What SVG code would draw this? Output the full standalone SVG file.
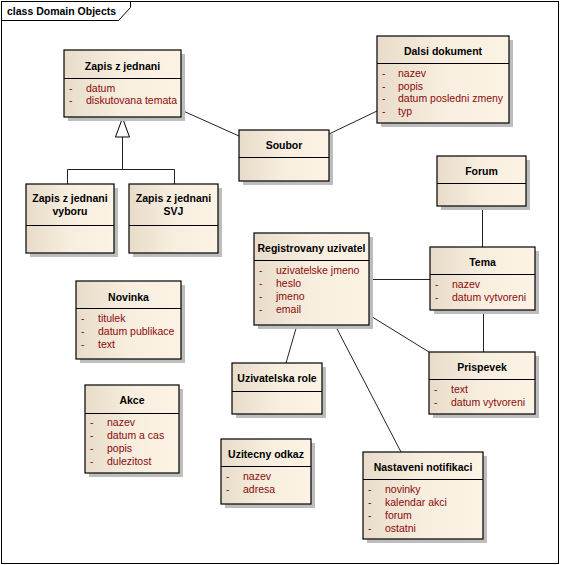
<svg xmlns="http://www.w3.org/2000/svg" width="561" height="565" viewBox="0 0 561 565">
<defs>
<linearGradient id="g" x1="0" y1="0" x2="1" y2="0">
<stop offset="0" stop-color="#E8DCC9"/>
<stop offset="0.5" stop-color="#F8EEDF"/>
<stop offset="1" stop-color="#FCF3E5"/>
</linearGradient>
<style>
.sh{fill:#BDBDBD}
.bx{fill:url(#g);stroke:#000;stroke-width:1.2}
.dv{stroke:#000;stroke-width:1}
.t{font-family:"Liberation Sans",Arial,sans-serif;font-size:10.5px;font-weight:bold;fill:#000;text-anchor:middle}
.a{font-family:"Liberation Sans",Arial,sans-serif;font-size:10.5px;fill:#8B0A0A}
.c{stroke:#222;stroke-width:1;fill:none}
.fr{font-family:"Liberation Sans",Arial,sans-serif;font-size:10.5px;font-weight:bold;fill:#000}
</style>
</defs>
<rect x="0" y="0" width="561" height="565" fill="#fff"/>
<g id="frame">
<rect x="1.5" y="1.5" width="557" height="562" fill="none" stroke="#000" stroke-width="1"/>
<polyline points="1.5,20.5 118.5,20.5 130.5,7.5 130.5,1.5" fill="none" stroke="#000" stroke-width="1"/>
<text class="fr" x="7" y="15">class Domain Objects</text>
</g>
<g id="connectors">
<line class="c" x1="181" y1="110" x2="239" y2="136"/>
<line class="c" x1="329" y1="134" x2="377" y2="111"/>
<path class="c" d="M67.5,184 V169.5 H174.5 V184 M122.5,169.5 V137"/>
<polygon points="122.5,118 115.5,137 129.5,137" fill="#fff" stroke="#000" stroke-width="1"/>
<line class="c" x1="482.5" y1="206" x2="482.5" y2="247"/>
<line class="c" x1="369" y1="279.5" x2="430" y2="279.5"/>
<line class="c" x1="483.5" y1="310" x2="483.5" y2="352"/>
<line class="c" x1="369" y1="315" x2="429" y2="352"/>
<line class="c" x1="297" y1="325" x2="286" y2="363"/>
<line class="c" x1="335" y1="325" x2="401" y2="452"/>
</g>
<g id="zapis">
<rect class="sh" x="68" y="54" width="117" height="67"/>
<rect class="bx" x="64" y="50" width="117" height="67"/>
<line class="dv" x1="64" y1="78.5" x2="181" y2="78.5"/>
<text class="t" x="122.5" y="69.5">Zapis z jednani</text>
<text class="a" x="69" y="92">-</text><text class="a" x="86" y="92">datum</text>
<text class="a" x="69" y="104">-</text><text class="a" x="86" y="104">diskutovana temata</text>
</g>
<g id="zapis-vyboru">
<rect class="sh" x="30" y="188" width="88" height="69"/>
<rect class="bx" x="26" y="184" width="88" height="69"/>
<line class="dv" x1="26" y1="225.5" x2="114" y2="225.5"/>
<text class="t" x="70" y="202">Zapis z jednani</text>
<text class="t" x="70" y="215">vyboru</text>
</g>
<g id="zapis-svj">
<rect class="sh" x="133" y="188" width="89" height="69"/>
<rect class="bx" x="129" y="184" width="89" height="69"/>
<line class="dv" x1="129" y1="225.5" x2="218" y2="225.5"/>
<text class="t" x="173.5" y="202">Zapis z jednani</text>
<text class="t" x="173.5" y="215">SVJ</text>
</g>
<g id="soubor">
<rect class="sh" x="243" y="134" width="90" height="51"/>
<rect class="bx" x="239" y="130" width="90" height="51"/>
<line class="dv" x1="239" y1="157.5" x2="329" y2="157.5"/>
<text class="t" x="284" y="149">Soubor</text>
</g>
<g id="dalsi-dokument">
<rect class="sh" x="381" y="40" width="132" height="87"/>
<rect class="bx" x="377" y="36" width="132" height="87"/>
<line class="dv" x1="377" y1="63.5" x2="509" y2="63.5"/>
<text class="t" x="443" y="55">Dalsi dokument</text>
<text class="a" x="382" y="77">-</text><text class="a" x="398" y="77">nazev</text>
<text class="a" x="382" y="89.5">-</text><text class="a" x="398" y="89.5">popis</text>
<text class="a" x="382" y="102">-</text><text class="a" x="398" y="102">datum posledni zmeny</text>
<text class="a" x="382" y="114.5">-</text><text class="a" x="398" y="114.5">typ</text>
</g>
<g id="forum">
<rect class="sh" x="441" y="160" width="89" height="50"/>
<rect class="bx" x="437" y="156" width="89" height="50"/>
<line class="dv" x1="437" y1="183.5" x2="526" y2="183.5"/>
<text class="t" x="481.5" y="174.5">Forum</text>
</g>
<g id="tema">
<rect class="sh" x="434" y="251" width="105" height="63"/>
<rect class="bx" x="430" y="247" width="105" height="63"/>
<line class="dv" x1="430" y1="274.5" x2="535" y2="274.5"/>
<text class="t" x="482.5" y="266">Tema</text>
<text class="a" x="435" y="288">-</text><text class="a" x="452" y="288">nazev</text>
<text class="a" x="435" y="301">-</text><text class="a" x="452" y="301">datum vytvoreni</text>
</g>
<g id="registrovany-uzivatel">
<rect class="sh" x="258" y="237" width="115" height="92"/>
<rect class="bx" x="254" y="233" width="115" height="92"/>
<line class="dv" x1="254" y1="260.5" x2="369" y2="260.5"/>
<text class="t" x="311.5" y="252">Registrovany uzivatel</text>
<text class="a" x="259" y="274">-</text><text class="a" x="276" y="274">uzivatelske jmeno</text>
<text class="a" x="259" y="287">-</text><text class="a" x="276" y="287">heslo</text>
<text class="a" x="259" y="300">-</text><text class="a" x="276" y="300">jmeno</text>
<text class="a" x="259" y="313">-</text><text class="a" x="276" y="313">email</text>
</g>
<g id="prispevek">
<rect class="sh" x="433" y="356" width="106" height="62"/>
<rect class="bx" x="429" y="352" width="106" height="62"/>
<line class="dv" x1="429" y1="379.5" x2="535" y2="379.5"/>
<text class="t" x="482" y="370.5">Prispevek</text>
<text class="a" x="434" y="392.5">-</text><text class="a" x="451" y="392.5">text</text>
<text class="a" x="434" y="405.5">-</text><text class="a" x="451" y="405.5">datum vytvoreni</text>
</g>
<g id="uzivatelska-role">
<rect class="sh" x="236" y="367" width="90" height="51"/>
<rect class="bx" x="232" y="363" width="90" height="51"/>
<line class="dv" x1="232" y1="391.5" x2="322" y2="391.5"/>
<text class="t" x="277" y="382">Uzivatelska role</text>
</g>
<g id="nastaveni-notifikaci">
<rect class="sh" x="367" y="456" width="120" height="87"/>
<rect class="bx" x="363" y="452" width="120" height="87"/>
<line class="dv" x1="363" y1="479.5" x2="483" y2="479.5"/>
<text class="t" x="423" y="471">Nastaveni notifikaci</text>
<text class="a" x="368" y="493">-</text><text class="a" x="385" y="493">novinky</text>
<text class="a" x="368" y="506">-</text><text class="a" x="385" y="506">kalendar akci</text>
<text class="a" x="368" y="519">-</text><text class="a" x="385" y="519">forum</text>
<text class="a" x="368" y="532">-</text><text class="a" x="385" y="532">ostatni</text>
</g>
<g id="uzitecny-odkaz">
<rect class="sh" x="225" y="443" width="90" height="65"/>
<rect class="bx" x="221" y="439" width="90" height="65"/>
<line class="dv" x1="221" y1="466.5" x2="311" y2="466.5"/>
<text class="t" x="266" y="458">Uzitecny odkaz</text>
<text class="a" x="226" y="480">-</text><text class="a" x="243" y="480">nazev</text>
<text class="a" x="226" y="493">-</text><text class="a" x="243" y="493">adresa</text>
</g>
<g id="novinka">
<rect class="sh" x="80" y="285" width="105" height="78"/>
<rect class="bx" x="76" y="281" width="105" height="78"/>
<line class="dv" x1="76" y1="308.5" x2="181" y2="308.5"/>
<text class="t" x="128.5" y="300.5">Novinka</text>
<text class="a" x="81" y="322">-</text><text class="a" x="98" y="322">titulek</text>
<text class="a" x="81" y="335">-</text><text class="a" x="98" y="335">datum publikace</text>
<text class="a" x="81" y="348">-</text><text class="a" x="98" y="348">text</text>
</g>
<g id="akce">
<rect class="sh" x="89" y="389" width="94" height="88"/>
<rect class="bx" x="85" y="385" width="94" height="88"/>
<line class="dv" x1="85" y1="413.5" x2="179" y2="413.5"/>
<text class="t" x="132" y="404">Akce</text>
<text class="a" x="90" y="426">-</text><text class="a" x="107" y="426">nazev</text>
<text class="a" x="90" y="439">-</text><text class="a" x="107" y="439">datum a cas</text>
<text class="a" x="90" y="452">-</text><text class="a" x="107" y="452">popis</text>
<text class="a" x="90" y="465">-</text><text class="a" x="107" y="465">dulezitost</text>
</g>
</svg>
